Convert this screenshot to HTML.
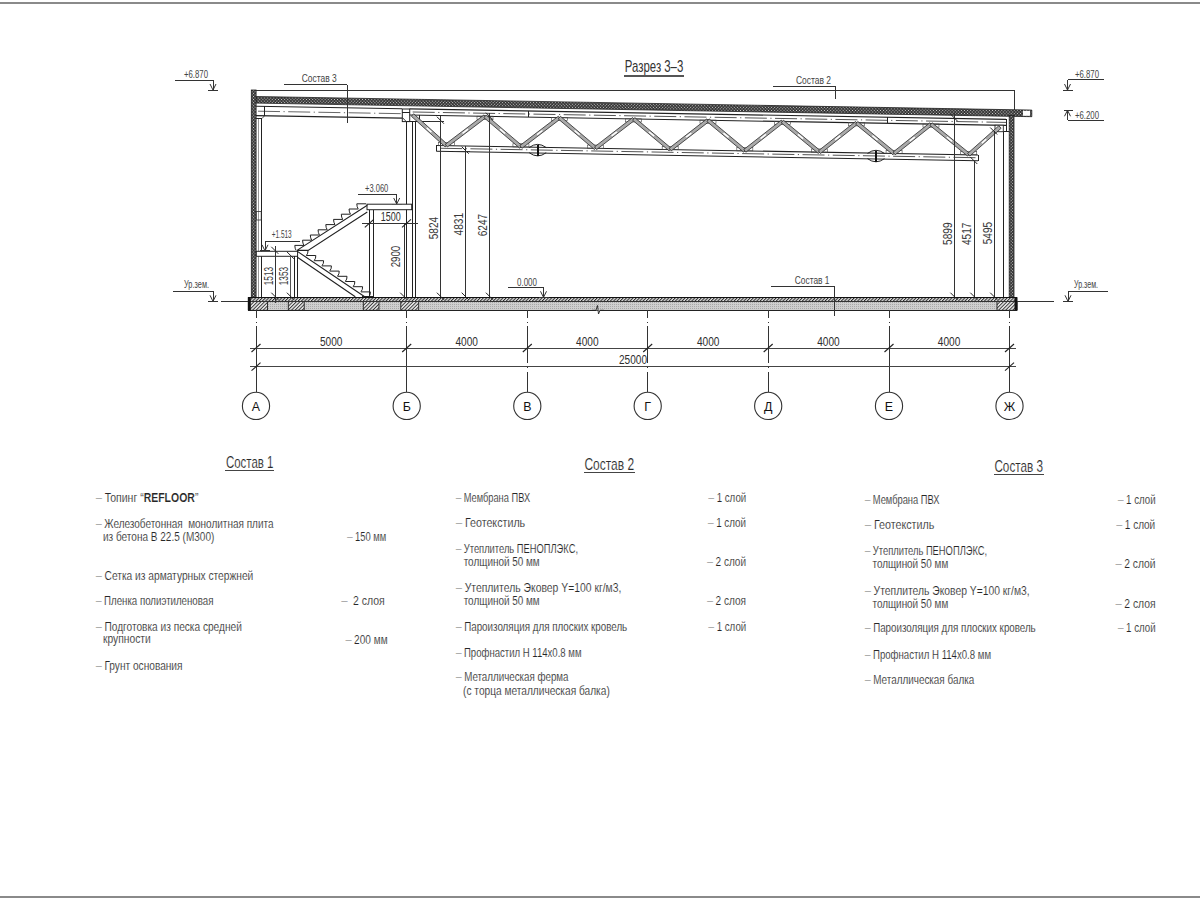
<!DOCTYPE html>
<html><head><meta charset="utf-8"><title>Разрез 3-3</title>
<style>
html,body{margin:0;padding:0;background:#fff;width:1200px;height:900px;overflow:hidden}
svg{display:block;font-family:"Liberation Sans",sans-serif}
text.t{stroke:#fff;stroke-width:0.15px;paint-order:fill stroke}
</style></head><body>
<svg width="1200" height="900" viewBox="0 0 1200 900">
<rect width="1200" height="900" fill="#fff"/>
<defs>
<pattern id="dots" width="2.2" height="2.2" patternUnits="userSpaceOnUse" patternTransform="rotate(45)"><rect width="2.2" height="2.2" fill="#2a2a2a"/><rect x="0.55" y="0.55" width="1.1" height="1.1" fill="#d8d8d8"/></pattern>
<pattern id="hatch" width="2.3" height="2.3" patternUnits="userSpaceOnUse" patternTransform="rotate(-45)"><rect width="2.3" height="2.3" fill="#e0e0e0"/><rect width="2.3" height="1.0" fill="#2a2a2a"/></pattern>
<pattern id="hatch2" width="2.5" height="2.5" patternUnits="userSpaceOnUse" patternTransform="rotate(-45)"><rect width="2.5" height="2.5" fill="#e4e4e4"/><rect width="2.5" height="0.9" fill="#333"/></pattern>
<pattern id="grav" width="2" height="2" patternUnits="userSpaceOnUse"><rect width="2" height="2" fill="#cfcfcf"/><rect width="1" height="1" fill="#a8a8a8"/></pattern>
</defs>
<rect x="0.00" y="2.00" width="1200.00" height="2.00" fill="#8a8a8a" stroke="none" stroke-width="1" />
<rect x="0.00" y="896.00" width="1200.00" height="2.00" fill="#8a8a8a" stroke="none" stroke-width="1" />
<text x="624.80" y="72.40" font-size="16.2" fill="#333" text-anchor="start" font-weight="normal" textLength="58.5" lengthAdjust="spacingAndGlyphs" >Разрез 3–3</text>
<line x1="624.00" y1="75.80" x2="683.50" y2="75.80" stroke="#555" stroke-width="1.5"  shape-rendering="crispEdges"/>
<line x1="251.00" y1="90.00" x2="1014.00" y2="90.00" stroke="#333" stroke-width="1"  shape-rendering="crispEdges"/>
<line x1="1014.00" y1="90.00" x2="1014.00" y2="109.50" stroke="#333" stroke-width="1"  shape-rendering="crispEdges"/>
<path d="M256,96.5 L1031.8,110.08 L1031.8,116.68 L256,103.1 Z" fill="url(#dots)" stroke="#222" stroke-width="0.8" />
<rect x="1023.00" y="110.80" width="7.00" height="5.00" fill="#fff" stroke="none" stroke-width="1" />
<rect x="251.30" y="90.00" width="4.80" height="207.30" fill="url(#dots)" stroke="#222" stroke-width="0.8" />
<rect x="1009.20" y="115.50" width="4.80" height="181.80" fill="url(#dots)" stroke="#222" stroke-width="0.8" />
<line x1="256.00" y1="106.30" x2="402.00" y2="108.78" stroke="#222" stroke-width="1.1" />
<line x1="256.00" y1="115.60" x2="402.00" y2="118.08" stroke="#222" stroke-width="1.1" />
<line x1="258" y1="111.2" x2="402" y2="113.68" stroke="#555" stroke-width="0.9" stroke-dasharray="22,3.5,1.2,3.5"/>
<line x1="264.10" y1="106.30" x2="264.10" y2="115.60" stroke="#222" stroke-width="1"  shape-rendering="crispEdges"/>
<line x1="256.30" y1="118.50" x2="262.00" y2="118.50" stroke="#222" stroke-width="1"  shape-rendering="crispEdges"/>
<line x1="262.00" y1="118.50" x2="264.50" y2="115.80" stroke="#222" stroke-width="0.8" />
<line x1="261.20" y1="118.50" x2="261.20" y2="297.00" stroke="#222" stroke-width="1"  shape-rendering="crispEdges"/>
<line x1="258.90" y1="118.50" x2="258.90" y2="297.00" stroke="#999" stroke-width="1"  shape-rendering="crispEdges"/>
<rect x="256.20" y="211.50" width="5.00" height="8.50" fill="none" stroke="#333" stroke-width="0.8" />
<line x1="406.50" y1="121.60" x2="406.50" y2="297.00" stroke="#222" stroke-width="1"  shape-rendering="crispEdges"/>
<line x1="412.20" y1="121.60" x2="412.20" y2="297.00" stroke="#222" stroke-width="1"  shape-rendering="crispEdges"/>
<line x1="415.60" y1="121.60" x2="415.60" y2="297.00" stroke="#222" stroke-width="1"  shape-rendering="crispEdges"/>
<rect x="402.30" y="108.99" width="7.40" height="12.61" fill="#fff" stroke="#222" stroke-width="1" />
<line x1="402.30" y1="112.60" x2="409.70" y2="112.60" stroke="#222" stroke-width="1"  shape-rendering="crispEdges"/>
<line x1="406.50" y1="121.60" x2="415.60" y2="121.60" stroke="#222" stroke-width="1"  shape-rendering="crispEdges"/>
<line x1="402.40" y1="117.60" x2="406.30" y2="121.60" stroke="#222" stroke-width="0.9" />
<line x1="409.70" y1="108.89" x2="1006.00" y2="119.33" stroke="#222" stroke-width="1.1" />
<line x1="409.70" y1="114.99" x2="1006.00" y2="125.42" stroke="#222" stroke-width="1.1" />
<line x1="412.7" y1="111.99" x2="1006" y2="122.42" stroke="#555" stroke-width="1" stroke-dasharray="22,3.5,1.2,3.5"/>
<line x1="436.20" y1="145.45" x2="978.00" y2="154.94" stroke="#222" stroke-width="1.1" />
<line x1="436.20" y1="151.25" x2="978.00" y2="160.74" stroke="#222" stroke-width="1.1" />
<line x1="436.20" y1="145.45" x2="436.20" y2="151.25" stroke="#222" stroke-width="1"  shape-rendering="crispEdges"/>
<line x1="978.00" y1="154.94" x2="978.00" y2="160.74" stroke="#222" stroke-width="1"  shape-rendering="crispEdges"/>
<line x1="440.2" y1="148.25" x2="978" y2="157.74" stroke="#555" stroke-width="1" stroke-dasharray="22,3.5,1.2,3.5"/>
<line x1="1006.00" y1="119.33" x2="1006.00" y2="131.70" stroke="#222" stroke-width="1"  shape-rendering="crispEdges"/>
<line x1="1003.30" y1="131.70" x2="1009.00" y2="131.70" stroke="#222" stroke-width="1"  shape-rendering="crispEdges"/>
<line x1="1003.30" y1="131.70" x2="1003.30" y2="297.00" stroke="#222" stroke-width="1"  shape-rendering="crispEdges"/>
<line x1="419.30" y1="115.16" x2="419.30" y2="121.40" stroke="#222" stroke-width="1"  shape-rendering="crispEdges"/>
<line x1="409.70" y1="121.40" x2="432.00" y2="121.40" stroke="#222" stroke-width="1"  shape-rendering="crispEdges"/>
<rect x="477.00" y="116.17" width="16.00" height="3.20" fill="none" stroke="#444" stroke-width="0.6" />
<rect x="551.33" y="117.47" width="16.00" height="3.20" fill="none" stroke="#444" stroke-width="0.6" />
<rect x="625.66" y="118.77" width="16.00" height="3.20" fill="none" stroke="#444" stroke-width="0.6" />
<rect x="699.99" y="120.07" width="16.00" height="3.20" fill="none" stroke="#444" stroke-width="0.6" />
<rect x="774.32" y="121.37" width="16.00" height="3.20" fill="none" stroke="#444" stroke-width="0.6" />
<rect x="848.65" y="122.67" width="16.00" height="3.20" fill="none" stroke="#444" stroke-width="0.6" />
<rect x="922.98" y="123.97" width="16.00" height="3.20" fill="none" stroke="#444" stroke-width="0.6" />
<rect x="438.30" y="142.43" width="16.00" height="3.20" fill="none" stroke="#444" stroke-width="0.6" />
<rect x="512.93" y="143.74" width="16.00" height="3.20" fill="none" stroke="#444" stroke-width="0.6" />
<rect x="587.56" y="145.04" width="16.00" height="3.20" fill="none" stroke="#444" stroke-width="0.6" />
<rect x="662.19" y="146.35" width="16.00" height="3.20" fill="none" stroke="#444" stroke-width="0.6" />
<rect x="736.82" y="147.65" width="16.00" height="3.20" fill="none" stroke="#444" stroke-width="0.6" />
<rect x="811.45" y="148.96" width="16.00" height="3.20" fill="none" stroke="#444" stroke-width="0.6" />
<rect x="886.08" y="150.27" width="16.00" height="3.20" fill="none" stroke="#444" stroke-width="0.6" />
<rect x="960.71" y="151.57" width="16.00" height="3.20" fill="none" stroke="#444" stroke-width="0.6" />
<rect x="995.00" y="125.23" width="8.30" height="6.47" fill="#fff" stroke="#222" stroke-width="0.9" />
<path d="M411.36,116.30 L445.16,146.89 L447.44,144.37 L413.64,113.78 Z" fill="#aaaaaa" stroke="#2a2a2a" stroke-width="0.8" />
<path d="M426.18,128.45 L430.91,132.74 L431.94,131.60 L427.21,127.32 Z" fill="#fff" stroke="none" stroke-width="1" />
<path d="M447.33,146.99 L486.03,117.66 L483.97,114.95 L445.27,144.28 Z" fill="#aaaaaa" stroke="#2a2a2a" stroke-width="0.8" />
<path d="M463.02,133.92 L468.43,129.82 L467.51,128.60 L462.09,132.70 Z" fill="#fff" stroke="none" stroke-width="1" />
<path d="M483.90,117.60 L519.83,148.23 L522.03,145.64 L486.10,115.01 Z" fill="#aaaaaa" stroke="#2a2a2a" stroke-width="0.8" />
<path d="M499.59,129.75 L504.62,134.04 L505.62,132.88 L500.59,128.59 Z" fill="#fff" stroke="none" stroke-width="1" />
<path d="M521.96,148.29 L560.36,118.96 L558.30,116.26 L519.90,145.59 Z" fill="#aaaaaa" stroke="#2a2a2a" stroke-width="0.8" />
<path d="M537.52,135.23 L542.90,131.12 L541.97,129.90 L536.59,134.01 Z" fill="#fff" stroke="none" stroke-width="1" />
<path d="M558.23,118.91 L594.46,149.54 L596.66,146.94 L560.43,116.31 Z" fill="#aaaaaa" stroke="#2a2a2a" stroke-width="0.8" />
<path d="M574.05,131.06 L579.12,135.35 L580.11,134.18 L575.04,129.89 Z" fill="#fff" stroke="none" stroke-width="1" />
<path d="M596.60,149.59 L634.70,120.26 L632.62,117.56 L594.52,146.90 Z" fill="#aaaaaa" stroke="#2a2a2a" stroke-width="0.8" />
<path d="M612.03,136.53 L617.36,132.42 L616.43,131.21 L611.10,135.32 Z" fill="#fff" stroke="none" stroke-width="1" />
<path d="M632.57,120.21 L669.10,150.85 L671.28,148.25 L634.75,117.61 Z" fill="#aaaaaa" stroke="#2a2a2a" stroke-width="0.8" />
<path d="M648.51,132.36 L653.63,136.65 L654.61,135.48 L649.49,131.19 Z" fill="#fff" stroke="none" stroke-width="1" />
<path d="M671.23,150.89 L709.03,121.55 L706.95,118.87 L669.15,148.21 Z" fill="#aaaaaa" stroke="#2a2a2a" stroke-width="0.8" />
<path d="M686.54,137.83 L691.83,133.72 L690.89,132.51 L685.60,136.62 Z" fill="#fff" stroke="none" stroke-width="1" />
<path d="M706.90,121.52 L743.73,152.16 L745.91,149.55 L709.08,118.90 Z" fill="#aaaaaa" stroke="#2a2a2a" stroke-width="0.8" />
<path d="M722.97,133.67 L728.13,137.96 L729.10,136.78 L723.95,132.49 Z" fill="#fff" stroke="none" stroke-width="1" />
<path d="M745.87,152.19 L783.37,122.85 L781.27,120.17 L743.77,149.52 Z" fill="#aaaaaa" stroke="#2a2a2a" stroke-width="0.8" />
<path d="M761.04,139.13 L766.29,135.02 L765.35,133.82 L760.10,137.93 Z" fill="#fff" stroke="none" stroke-width="1" />
<path d="M781.24,122.82 L818.37,153.47 L820.53,150.85 L783.40,120.20 Z" fill="#aaaaaa" stroke="#2a2a2a" stroke-width="0.8" />
<path d="M797.43,134.97 L802.63,139.26 L803.60,138.08 L798.40,133.79 Z" fill="#fff" stroke="none" stroke-width="1" />
<path d="M820.50,153.50 L857.70,124.15 L855.60,121.48 L818.40,150.83 Z" fill="#aaaaaa" stroke="#2a2a2a" stroke-width="0.8" />
<path d="M835.55,140.43 L840.76,136.33 L839.81,135.12 L834.60,139.23 Z" fill="#fff" stroke="none" stroke-width="1" />
<path d="M855.57,124.13 L893.00,154.78 L895.16,152.15 L857.73,121.50 Z" fill="#aaaaaa" stroke="#2a2a2a" stroke-width="0.8" />
<path d="M871.89,136.28 L877.13,140.57 L878.10,139.39 L872.86,135.09 Z" fill="#fff" stroke="none" stroke-width="1" />
<path d="M895.14,154.80 L932.04,125.44 L929.92,122.78 L893.02,152.14 Z" fill="#aaaaaa" stroke="#2a2a2a" stroke-width="0.8" />
<path d="M910.05,141.74 L915.22,137.63 L914.27,136.43 L909.10,140.54 Z" fill="#fff" stroke="none" stroke-width="1" />
<path d="M929.91,125.43 L967.64,156.09 L969.78,153.45 L932.05,122.79 Z" fill="#aaaaaa" stroke="#2a2a2a" stroke-width="0.8" />
<path d="M946.34,137.58 L951.63,141.88 L952.59,140.69 L947.31,136.40 Z" fill="#fff" stroke="none" stroke-width="1" />
<path d="M969.84,156.04 L1001.13,128.27 L998.87,125.73 L967.58,153.50 Z" fill="#aaaaaa" stroke="#2a2a2a" stroke-width="0.8" />
<path d="M982.36,143.68 L986.74,139.79 L985.72,138.65 L981.34,142.54 Z" fill="#fff" stroke="none" stroke-width="1" />
<line x1="528.30" y1="110.97" x2="528.30" y2="117.07" stroke="#222" stroke-width="1.5"  shape-rendering="crispEdges"/>
<line x1="887.50" y1="117.25" x2="887.50" y2="123.35" stroke="#222" stroke-width="1.5"  shape-rendering="crispEdges"/>
<path d="M529.20,147.53 Q537.70,141.23 546.20,147.53 M529.20,152.73 Q537.70,159.03 546.20,152.73" fill="none" stroke="#222" stroke-width="1" />
<line x1="537.70" y1="144.63" x2="537.70" y2="155.83" stroke="#111" stroke-width="1.7"  shape-rendering="crispEdges"/>
<path d="M867.50,153.45 Q876.00,147.15 884.50,153.45 M867.50,158.65 Q876.00,164.95 884.50,158.65" fill="none" stroke="#222" stroke-width="1" />
<line x1="876.00" y1="150.55" x2="876.00" y2="161.75" stroke="#111" stroke-width="1.7"  shape-rendering="crispEdges"/>
<rect x="248.30" y="297.20" width="768.70" height="4.30" fill="url(#hatch)" stroke="none" stroke-width="1" />
<rect x="248.30" y="301.50" width="768.70" height="8.80" fill="url(#grav)" stroke="none" stroke-width="1" />
<rect x="249.00" y="301.50" width="18.50" height="8.80" fill="url(#hatch2)" stroke="#222" stroke-width="0.9" />
<rect x="288.30" y="301.50" width="15.90" height="8.80" fill="url(#hatch2)" stroke="#222" stroke-width="0.9" />
<rect x="363.30" y="301.50" width="15.70" height="8.80" fill="url(#hatch2)" stroke="#222" stroke-width="0.9" />
<rect x="400.80" y="301.50" width="17.90" height="8.80" fill="url(#hatch2)" stroke="#222" stroke-width="0.9" />
<rect x="997.00" y="301.50" width="20.00" height="8.80" fill="url(#hatch2)" stroke="#222" stroke-width="0.9" />
<line x1="248.30" y1="297.20" x2="1017.00" y2="297.20" stroke="#111" stroke-width="1.3"  shape-rendering="crispEdges"/>
<line x1="248.30" y1="301.50" x2="1017.00" y2="301.50" stroke="#333" stroke-width="1"  shape-rendering="crispEdges"/>
<line x1="248.30" y1="310.30" x2="1017.00" y2="310.30" stroke="#222" stroke-width="1"  shape-rendering="crispEdges"/>
<rect x="247.80" y="297.20" width="3.00" height="13.10" fill="#111" stroke="none" stroke-width="1" />
<rect x="1014.50" y="297.20" width="3.00" height="13.10" fill="#111" stroke="none" stroke-width="1" />
<path d="M592,310.3 L596,310.3 L597.5,305.5 L598.5,314 L600,310.3 L604,310.3" fill="#fff" stroke="#222" stroke-width="0.9" />
<line x1="221.30" y1="301.30" x2="248.00" y2="301.30" stroke="#333" stroke-width="1"  shape-rendering="crispEdges"/>
<line x1="1017.00" y1="301.30" x2="1054.00" y2="301.30" stroke="#333" stroke-width="1"  shape-rendering="crispEdges"/>
<line x1="174.70" y1="80.00" x2="213.00" y2="80.00" stroke="#333" stroke-width="1"  shape-rendering="crispEdges"/>
<line x1="213.00" y1="80.00" x2="213.00" y2="90.00" stroke="#333" stroke-width="1"  shape-rendering="crispEdges"/>
<path d="M210,84 L213,90 L216,84" fill="none" stroke="#333" stroke-width="1" />
<line x1="208.00" y1="90.00" x2="218.00" y2="90.00" stroke="#333" stroke-width="1"  shape-rendering="crispEdges"/>
<text x="184.00" y="77.50" font-size="10.5" fill="#444" text-anchor="start" font-weight="normal" textLength="24.0" lengthAdjust="spacingAndGlyphs" >+6.870</text>
<line x1="1067.50" y1="79.50" x2="1103.50" y2="79.50" stroke="#333" stroke-width="1"  shape-rendering="crispEdges"/>
<line x1="1067.50" y1="79.50" x2="1067.50" y2="90.00" stroke="#333" stroke-width="1"  shape-rendering="crispEdges"/>
<path d="M1064.5,84 L1067.5,90 L1070.5,84" fill="none" stroke="#333" stroke-width="1" />
<line x1="1062.50" y1="90.00" x2="1072.50" y2="90.00" stroke="#333" stroke-width="1"  shape-rendering="crispEdges"/>
<text x="1075.00" y="78.00" font-size="10.5" fill="#444" text-anchor="start" font-weight="normal" textLength="24.0" lengthAdjust="spacingAndGlyphs" >+6.870</text>
<line x1="173.00" y1="291.30" x2="213.00" y2="291.30" stroke="#333" stroke-width="1"  shape-rendering="crispEdges"/>
<line x1="213.00" y1="291.30" x2="213.00" y2="301.30" stroke="#333" stroke-width="1"  shape-rendering="crispEdges"/>
<path d="M210,295.3 L213,301.3 L216,295.3" fill="none" stroke="#333" stroke-width="1" />
<line x1="208.00" y1="301.30" x2="218.00" y2="301.30" stroke="#333" stroke-width="1"  shape-rendering="crispEdges"/>
<text x="184.00" y="288.00" font-size="10.5" fill="#444" text-anchor="start" font-weight="normal" textLength="25.0" lengthAdjust="spacingAndGlyphs" >Ур.зем.</text>
<line x1="1068.00" y1="291.40" x2="1108.00" y2="291.40" stroke="#333" stroke-width="1"  shape-rendering="crispEdges"/>
<line x1="1068.00" y1="291.40" x2="1068.00" y2="301.30" stroke="#333" stroke-width="1"  shape-rendering="crispEdges"/>
<path d="M1065,295.3 L1068,301.3 L1071,295.3" fill="none" stroke="#333" stroke-width="1" />
<line x1="1063.00" y1="301.30" x2="1073.00" y2="301.30" stroke="#333" stroke-width="1"  shape-rendering="crispEdges"/>
<text x="1074.00" y="288.00" font-size="10.5" fill="#444" text-anchor="start" font-weight="normal" textLength="24.0" lengthAdjust="spacingAndGlyphs" >Ур.зем.</text>
<line x1="357.50" y1="194.70" x2="396.70" y2="194.70" stroke="#333" stroke-width="1"  shape-rendering="crispEdges"/>
<line x1="396.70" y1="194.70" x2="396.70" y2="204.00" stroke="#333" stroke-width="1"  shape-rendering="crispEdges"/>
<path d="M393.7,198 L396.7,204 L399.7,198" fill="none" stroke="#333" stroke-width="1" />
<line x1="391.70" y1="204.00" x2="401.70" y2="204.00" stroke="#333" stroke-width="1"  shape-rendering="crispEdges"/>
<text x="365.00" y="191.70" font-size="10.5" fill="#444" text-anchor="start" font-weight="normal" textLength="23.3" lengthAdjust="spacingAndGlyphs" >+3.060</text>
<line x1="265.00" y1="241.30" x2="300.00" y2="241.30" stroke="#333" stroke-width="1"  shape-rendering="crispEdges"/>
<line x1="265.00" y1="241.30" x2="265.00" y2="250.80" stroke="#333" stroke-width="1"  shape-rendering="crispEdges"/>
<path d="M262,244.8 L265,250.8 L268,244.8" fill="none" stroke="#333" stroke-width="1" />
<line x1="260.00" y1="250.80" x2="270.00" y2="250.80" stroke="#333" stroke-width="1"  shape-rendering="crispEdges"/>
<text x="271.70" y="238.30" font-size="10.5" fill="#444" text-anchor="start" font-weight="normal" textLength="20.0" lengthAdjust="spacingAndGlyphs" >+1.513</text>
<line x1="507.80" y1="287.70" x2="543.50" y2="287.70" stroke="#333" stroke-width="1"  shape-rendering="crispEdges"/>
<line x1="543.50" y1="287.70" x2="543.50" y2="297.30" stroke="#333" stroke-width="1"  shape-rendering="crispEdges"/>
<path d="M540.5,291.3 L543.5,297.3 L546.5,291.3" fill="none" stroke="#333" stroke-width="1" />
<line x1="538.50" y1="297.30" x2="548.50" y2="297.30" stroke="#333" stroke-width="1"  shape-rendering="crispEdges"/>
<text x="517.00" y="285.60" font-size="10.5" fill="#444" text-anchor="start" font-weight="normal" textLength="20.0" lengthAdjust="spacingAndGlyphs" >0.000</text>
<line x1="1064.00" y1="110.25" x2="1073.00" y2="110.25" stroke="#333" stroke-width="1"  shape-rendering="crispEdges"/>
<line x1="1067.50" y1="110.25" x2="1067.50" y2="120.30" stroke="#333" stroke-width="1"  shape-rendering="crispEdges"/>
<path d="M1064.5,116.25 L1067.5,110.25 L1070.5,116.25" fill="none" stroke="#333" stroke-width="1" />
<line x1="1067.50" y1="120.30" x2="1103.50" y2="120.30" stroke="#333" stroke-width="1"  shape-rendering="crispEdges"/>
<text x="1075.00" y="119.00" font-size="10.5" fill="#444" text-anchor="start" font-weight="normal" textLength="24.0" lengthAdjust="spacingAndGlyphs" >+6.200</text>
<text x="301.70" y="81.70" font-size="10.5" fill="#444" text-anchor="start" font-weight="normal" textLength="35.0" lengthAdjust="spacingAndGlyphs" >Состав 3</text>
<line x1="284.00" y1="84.50" x2="347.00" y2="84.50" stroke="#333" stroke-width="1"  shape-rendering="crispEdges"/>
<line x1="347.00" y1="84.50" x2="347.00" y2="123.00" stroke="#333" stroke-width="1"  shape-rendering="crispEdges"/>
<text x="796.00" y="84.00" font-size="10.5" fill="#444" text-anchor="start" font-weight="normal" textLength="35.0" lengthAdjust="spacingAndGlyphs" >Состав 2</text>
<line x1="772.50" y1="86.00" x2="835.00" y2="86.00" stroke="#333" stroke-width="1"  shape-rendering="crispEdges"/>
<line x1="835.00" y1="86.00" x2="835.00" y2="99.00" stroke="#333" stroke-width="1"  shape-rendering="crispEdges"/>
<text x="794.80" y="283.80" font-size="10.5" fill="#444" text-anchor="start" font-weight="normal" textLength="34.7" lengthAdjust="spacingAndGlyphs" >Состав 1</text>
<line x1="771.00" y1="286.00" x2="834.30" y2="286.00" stroke="#333" stroke-width="1"  shape-rendering="crispEdges"/>
<line x1="834.30" y1="286.00" x2="834.30" y2="316.30" stroke="#333" stroke-width="1"  shape-rendering="crispEdges"/>
<line x1="440.90" y1="116.00" x2="440.90" y2="297.20" stroke="#333" stroke-width="1"  shape-rendering="crispEdges"/>
<line x1="436.90" y1="292.70" x2="443.90" y2="299.70" stroke="#222" stroke-width="1" />
<line x1="465.70" y1="146.00" x2="465.70" y2="297.20" stroke="#333" stroke-width="1"  shape-rendering="crispEdges"/>
<line x1="461.70" y1="292.70" x2="468.70" y2="299.70" stroke="#222" stroke-width="1" />
<line x1="489.90" y1="113.30" x2="489.90" y2="297.20" stroke="#333" stroke-width="1"  shape-rendering="crispEdges"/>
<line x1="485.90" y1="292.70" x2="492.90" y2="299.70" stroke="#222" stroke-width="1" />
<line x1="436.90" y1="116.70" x2="443.90" y2="123.70" stroke="#222" stroke-width="1" />
<line x1="430.00" y1="121.40" x2="443.60" y2="121.40" stroke="#333" stroke-width="1"  shape-rendering="crispEdges"/>
<line x1="461.70" y1="146.70" x2="468.70" y2="153.70" stroke="#222" stroke-width="1" />
<line x1="455.00" y1="151.30" x2="470.00" y2="151.30" stroke="#333" stroke-width="1"  shape-rendering="crispEdges"/>
<line x1="485.90" y1="112.70" x2="492.90" y2="119.70" stroke="#222" stroke-width="1" />
<text x="438.00" y="228.00" font-size="12.3" fill="#3a3a3a" text-anchor="middle" textLength="22.5" lengthAdjust="spacingAndGlyphs" transform="rotate(-90 438.00 228.00)" dy="0">5824</text>
<text x="463.00" y="224.20" font-size="12.3" fill="#3a3a3a" text-anchor="middle" textLength="22.5" lengthAdjust="spacingAndGlyphs" transform="rotate(-90 463.00 224.20)" dy="0">4831</text>
<text x="487.30" y="225.00" font-size="12.3" fill="#3a3a3a" text-anchor="middle" textLength="22.5" lengthAdjust="spacingAndGlyphs" transform="rotate(-90 487.30 225.00)" dy="0">6247</text>
<line x1="954.40" y1="113.30" x2="954.40" y2="297.20" stroke="#333" stroke-width="1"  shape-rendering="crispEdges"/>
<line x1="950.40" y1="292.70" x2="957.40" y2="299.70" stroke="#222" stroke-width="1" />
<line x1="974.30" y1="161.00" x2="974.30" y2="297.20" stroke="#333" stroke-width="1"  shape-rendering="crispEdges"/>
<line x1="970.30" y1="292.70" x2="977.30" y2="299.70" stroke="#222" stroke-width="1" />
<line x1="994.20" y1="131.00" x2="994.20" y2="297.20" stroke="#333" stroke-width="1"  shape-rendering="crispEdges"/>
<line x1="990.20" y1="292.70" x2="997.20" y2="299.70" stroke="#222" stroke-width="1" />
<line x1="950.40" y1="114.00" x2="957.40" y2="121.00" stroke="#222" stroke-width="1" />
<line x1="970.30" y1="157.00" x2="977.30" y2="164.00" stroke="#222" stroke-width="1" />
<line x1="990.20" y1="127.50" x2="997.20" y2="134.50" stroke="#222" stroke-width="1" />
<text x="952.00" y="233.70" font-size="12.3" fill="#3a3a3a" text-anchor="middle" textLength="22.5" lengthAdjust="spacingAndGlyphs" transform="rotate(-90 952.00 233.70)" dy="0">5899</text>
<text x="971.30" y="233.80" font-size="12.3" fill="#3a3a3a" text-anchor="middle" textLength="22.5" lengthAdjust="spacingAndGlyphs" transform="rotate(-90 971.30 233.80)" dy="0">4517</text>
<text x="991.70" y="233.00" font-size="12.3" fill="#3a3a3a" text-anchor="middle" textLength="22.5" lengthAdjust="spacingAndGlyphs" transform="rotate(-90 991.70 233.00)" dy="0">5495</text>
<rect x="256.30" y="251.30" width="41.30" height="5.00" fill="#fff" stroke="#222" stroke-width="1" />
<rect x="367.00" y="204.20" width="44.70" height="5.50" fill="#fff" stroke="#222" stroke-width="1" />
<line x1="294.40" y1="256.30" x2="294.40" y2="297.20" stroke="#222" stroke-width="1"  shape-rendering="crispEdges"/>
<line x1="297.60" y1="256.30" x2="297.60" y2="297.20" stroke="#222" stroke-width="1"  shape-rendering="crispEdges"/>
<line x1="369.30" y1="209.70" x2="369.30" y2="297.20" stroke="#222" stroke-width="1"  shape-rendering="crispEdges"/>
<line x1="373.40" y1="209.70" x2="373.40" y2="297.20" stroke="#222" stroke-width="1"  shape-rendering="crispEdges"/>
<path d="M297,250.4 L367.3,205.2 M297,250.4 L308.1,250.4 L367.3,212.0" fill="none" stroke="#222" stroke-width="1.1" />
<path d="M304.10,245.40 L294.80,245.40 Q294.90,248.60 296.10,250.40" fill="none" stroke="#222" stroke-width="1" />
<path d="M311.85,240.20 L302.55,240.20 Q302.65,243.40 303.85,245.20" fill="none" stroke="#222" stroke-width="1" />
<path d="M319.60,235.00 L310.30,235.00 Q310.40,238.20 311.60,240.00" fill="none" stroke="#222" stroke-width="1" />
<path d="M327.35,229.80 L318.05,229.80 Q318.15,233.00 319.35,234.80" fill="none" stroke="#222" stroke-width="1" />
<path d="M335.10,224.60 L325.80,224.60 Q325.90,227.80 327.10,229.60" fill="none" stroke="#222" stroke-width="1" />
<path d="M342.85,219.40 L333.55,219.40 Q333.65,222.60 334.85,224.40" fill="none" stroke="#222" stroke-width="1" />
<path d="M350.60,214.20 L341.30,214.20 Q341.40,217.40 342.60,219.20" fill="none" stroke="#222" stroke-width="1" />
<path d="M358.35,209.00 L349.05,209.00 Q349.15,212.20 350.35,214.00" fill="none" stroke="#222" stroke-width="1" />
<path d="M366.10,203.80 L356.80,203.80 Q356.90,207.00 358.10,208.80" fill="none" stroke="#222" stroke-width="1" />
<path d="M297.4,251.4 L364.7,296.8 M297.4,257.2 L355.3,296.8" fill="none" stroke="#222" stroke-width="1.1" />
<path d="M306.30,255.50 L315.80,255.50 Q316.00,258.50 314.20,260.50" fill="none" stroke="#222" stroke-width="1" />
<path d="M314.10,260.70 L323.60,260.70 Q323.80,263.70 322.00,265.70" fill="none" stroke="#222" stroke-width="1" />
<path d="M321.90,265.90 L331.40,265.90 Q331.60,268.90 329.80,270.90" fill="none" stroke="#222" stroke-width="1" />
<path d="M329.70,271.10 L339.20,271.10 Q339.40,274.10 337.60,276.10" fill="none" stroke="#222" stroke-width="1" />
<path d="M337.50,276.30 L347.00,276.30 Q347.20,279.30 345.40,281.30" fill="none" stroke="#222" stroke-width="1" />
<path d="M345.30,281.50 L354.80,281.50 Q355.00,284.50 353.20,286.50" fill="none" stroke="#222" stroke-width="1" />
<path d="M353.10,286.70 L362.60,286.70 Q362.80,289.70 361.00,291.70" fill="none" stroke="#222" stroke-width="1" />
<path d="M360.90,291.90 L370.40,291.90 Q370.60,294.90 368.80,296.90" fill="none" stroke="#222" stroke-width="1" />
<path d="M308,250.4 Q308.2,253.4 306.4,255.5" fill="none" stroke="#222" stroke-width="1" />
<line x1="361.50" y1="296.00" x2="373.00" y2="296.00" stroke="#222" stroke-width="1"  shape-rendering="crispEdges"/>
<line x1="275.30" y1="245.80" x2="275.30" y2="303.00" stroke="#333" stroke-width="1"  shape-rendering="crispEdges"/>
<line x1="271.30" y1="246.80" x2="278.30" y2="253.80" stroke="#222" stroke-width="1" />
<line x1="271.30" y1="292.70" x2="278.30" y2="299.70" stroke="#222" stroke-width="1" />
<line x1="290.90" y1="256.30" x2="290.90" y2="297.20" stroke="#555" stroke-width="1"  shape-rendering="crispEdges"/>
<line x1="286.90" y1="251.80" x2="293.90" y2="258.80" stroke="#222" stroke-width="1" />
<line x1="286.90" y1="292.70" x2="293.90" y2="299.70" stroke="#222" stroke-width="1" />
<text x="272.50" y="276.00" font-size="12.3" fill="#3a3a3a" text-anchor="middle" textLength="18.5" lengthAdjust="spacingAndGlyphs" transform="rotate(-90 272.50 276.00)" dy="0">1513</text>
<text x="287.50" y="276.00" font-size="12.3" fill="#3a3a3a" text-anchor="middle" textLength="18.5" lengthAdjust="spacingAndGlyphs" transform="rotate(-90 287.50 276.00)" dy="0">1353</text>
<line x1="404.20" y1="223.00" x2="404.20" y2="297.20" stroke="#333" stroke-width="1"  shape-rendering="crispEdges"/>
<line x1="400.20" y1="292.70" x2="407.20" y2="299.70" stroke="#222" stroke-width="1" />
<text x="400.50" y="256.60" font-size="12.3" fill="#3a3a3a" text-anchor="middle" textLength="21.5" lengthAdjust="spacingAndGlyphs" transform="rotate(-90 400.50 256.60)" dy="0">2900</text>
<line x1="361.70" y1="223.30" x2="418.30" y2="223.30" stroke="#333" stroke-width="1"  shape-rendering="crispEdges"/>
<line x1="364.80" y1="227.30" x2="373.80" y2="219.30" stroke="#222" stroke-width="1.1" />
<line x1="402.00" y1="227.30" x2="411.00" y2="219.30" stroke="#222" stroke-width="1.1" />
<text x="380.80" y="220.80" font-size="12.3" fill="#2e2e2e" text-anchor="start" font-weight="normal" textLength="20.0" lengthAdjust="spacingAndGlyphs" >1500</text>
<line x1="256.00" y1="310.30" x2="256.00" y2="318.30" stroke="#333" stroke-width="1"  shape-rendering="crispEdges"/>
<line x1="256.00" y1="321.60" x2="256.00" y2="322.60" stroke="#333" stroke-width="1"  shape-rendering="crispEdges"/>
<line x1="256.00" y1="326.00" x2="256.00" y2="392.30" stroke="#333" stroke-width="1"  shape-rendering="crispEdges"/>
<circle cx="256" cy="405.9" r="13.6" fill="none" stroke="#333" stroke-width="1.1"/>
<text x="256.00" y="410.90" font-size="12.4" fill="#111" text-anchor="middle" font-weight="normal" >А</text>
<line x1="406.70" y1="310.30" x2="406.70" y2="318.30" stroke="#333" stroke-width="1"  shape-rendering="crispEdges"/>
<line x1="406.70" y1="321.60" x2="406.70" y2="322.60" stroke="#333" stroke-width="1"  shape-rendering="crispEdges"/>
<line x1="406.70" y1="326.00" x2="406.70" y2="392.30" stroke="#333" stroke-width="1"  shape-rendering="crispEdges"/>
<circle cx="406.7" cy="405.9" r="13.6" fill="none" stroke="#333" stroke-width="1.1"/>
<text x="406.70" y="410.90" font-size="12.4" fill="#111" text-anchor="middle" font-weight="normal" >Б</text>
<line x1="527.30" y1="310.30" x2="527.30" y2="318.30" stroke="#333" stroke-width="1"  shape-rendering="crispEdges"/>
<line x1="527.30" y1="321.60" x2="527.30" y2="322.60" stroke="#333" stroke-width="1"  shape-rendering="crispEdges"/>
<line x1="527.30" y1="326.00" x2="527.30" y2="363.30" stroke="#333" stroke-width="1"  shape-rendering="crispEdges"/>
<line x1="527.30" y1="367.00" x2="527.30" y2="368.00" stroke="#333" stroke-width="1"  shape-rendering="crispEdges"/>
<line x1="527.30" y1="371.70" x2="527.30" y2="392.30" stroke="#333" stroke-width="1"  shape-rendering="crispEdges"/>
<circle cx="527.3" cy="405.9" r="13.6" fill="none" stroke="#333" stroke-width="1.1"/>
<text x="527.30" y="410.90" font-size="12.4" fill="#111" text-anchor="middle" font-weight="normal" >В</text>
<line x1="647.70" y1="310.30" x2="647.70" y2="318.30" stroke="#333" stroke-width="1"  shape-rendering="crispEdges"/>
<line x1="647.70" y1="321.60" x2="647.70" y2="322.60" stroke="#333" stroke-width="1"  shape-rendering="crispEdges"/>
<line x1="647.70" y1="326.00" x2="647.70" y2="363.30" stroke="#333" stroke-width="1"  shape-rendering="crispEdges"/>
<line x1="647.70" y1="367.00" x2="647.70" y2="368.00" stroke="#333" stroke-width="1"  shape-rendering="crispEdges"/>
<line x1="647.70" y1="371.70" x2="647.70" y2="392.30" stroke="#333" stroke-width="1"  shape-rendering="crispEdges"/>
<circle cx="647.7" cy="405.9" r="13.6" fill="none" stroke="#333" stroke-width="1.1"/>
<text x="647.70" y="410.90" font-size="12.4" fill="#111" text-anchor="middle" font-weight="normal" >Г</text>
<line x1="768.20" y1="310.30" x2="768.20" y2="318.30" stroke="#333" stroke-width="1"  shape-rendering="crispEdges"/>
<line x1="768.20" y1="321.60" x2="768.20" y2="322.60" stroke="#333" stroke-width="1"  shape-rendering="crispEdges"/>
<line x1="768.20" y1="326.00" x2="768.20" y2="363.30" stroke="#333" stroke-width="1"  shape-rendering="crispEdges"/>
<line x1="768.20" y1="367.00" x2="768.20" y2="368.00" stroke="#333" stroke-width="1"  shape-rendering="crispEdges"/>
<line x1="768.20" y1="371.70" x2="768.20" y2="392.30" stroke="#333" stroke-width="1"  shape-rendering="crispEdges"/>
<circle cx="768.2" cy="405.9" r="13.6" fill="none" stroke="#333" stroke-width="1.1"/>
<text x="768.20" y="410.90" font-size="12.4" fill="#111" text-anchor="middle" font-weight="normal" >Д</text>
<line x1="889.00" y1="310.30" x2="889.00" y2="318.30" stroke="#333" stroke-width="1"  shape-rendering="crispEdges"/>
<line x1="889.00" y1="321.60" x2="889.00" y2="322.60" stroke="#333" stroke-width="1"  shape-rendering="crispEdges"/>
<line x1="889.00" y1="326.00" x2="889.00" y2="392.30" stroke="#333" stroke-width="1"  shape-rendering="crispEdges"/>
<circle cx="889" cy="405.9" r="13.6" fill="none" stroke="#333" stroke-width="1.1"/>
<text x="889.00" y="410.90" font-size="12.4" fill="#111" text-anchor="middle" font-weight="normal" >Е</text>
<line x1="1009.50" y1="310.30" x2="1009.50" y2="318.30" stroke="#333" stroke-width="1"  shape-rendering="crispEdges"/>
<line x1="1009.50" y1="321.60" x2="1009.50" y2="322.60" stroke="#333" stroke-width="1"  shape-rendering="crispEdges"/>
<line x1="1009.50" y1="326.00" x2="1009.50" y2="392.30" stroke="#333" stroke-width="1"  shape-rendering="crispEdges"/>
<circle cx="1009.5" cy="405.9" r="13.6" fill="none" stroke="#333" stroke-width="1.1"/>
<text x="1009.50" y="410.90" font-size="12.4" fill="#111" text-anchor="middle" font-weight="normal" >Ж</text>
<line x1="250.00" y1="348.00" x2="1016.00" y2="348.00" stroke="#444" stroke-width="1"  shape-rendering="crispEdges"/>
<line x1="250.00" y1="366.70" x2="1016.00" y2="366.70" stroke="#444" stroke-width="1"  shape-rendering="crispEdges"/>
<line x1="251.50" y1="352.00" x2="260.50" y2="344.00" stroke="#222" stroke-width="1.1" />
<line x1="402.20" y1="352.00" x2="411.20" y2="344.00" stroke="#222" stroke-width="1.1" />
<line x1="522.80" y1="352.00" x2="531.80" y2="344.00" stroke="#222" stroke-width="1.1" />
<line x1="643.20" y1="352.00" x2="652.20" y2="344.00" stroke="#222" stroke-width="1.1" />
<line x1="763.70" y1="352.00" x2="772.70" y2="344.00" stroke="#222" stroke-width="1.1" />
<line x1="884.50" y1="352.00" x2="893.50" y2="344.00" stroke="#222" stroke-width="1.1" />
<line x1="1005.00" y1="352.00" x2="1014.00" y2="344.00" stroke="#222" stroke-width="1.1" />
<line x1="251.50" y1="370.70" x2="260.50" y2="362.70" stroke="#222" stroke-width="1.1" />
<line x1="1005.00" y1="370.70" x2="1014.00" y2="362.70" stroke="#222" stroke-width="1.1" />
<text x="331.20" y="345.90" font-size="12.3" fill="#2e2e2e" text-anchor="middle" font-weight="normal" textLength="22.5" lengthAdjust="spacingAndGlyphs" >5000</text>
<text x="466.70" y="345.70" font-size="12.3" fill="#2e2e2e" text-anchor="middle" font-weight="normal" textLength="22.5" lengthAdjust="spacingAndGlyphs" >4000</text>
<text x="587.30" y="345.70" font-size="12.3" fill="#2e2e2e" text-anchor="middle" font-weight="normal" textLength="22.5" lengthAdjust="spacingAndGlyphs" >4000</text>
<text x="708.20" y="345.70" font-size="12.3" fill="#2e2e2e" text-anchor="middle" font-weight="normal" textLength="22.5" lengthAdjust="spacingAndGlyphs" >4000</text>
<text x="828.50" y="345.70" font-size="12.3" fill="#2e2e2e" text-anchor="middle" font-weight="normal" textLength="22.5" lengthAdjust="spacingAndGlyphs" >4000</text>
<text x="949.10" y="345.70" font-size="12.3" fill="#2e2e2e" text-anchor="middle" font-weight="normal" textLength="22.5" lengthAdjust="spacingAndGlyphs" >4000</text>
<text x="619.00" y="364.00" font-size="12.3" fill="#2e2e2e" text-anchor="start" font-weight="normal" textLength="28.0" lengthAdjust="spacingAndGlyphs" >25000</text>
<text x="225.90" y="468.10" font-size="16.2" fill="#2a2a2a" text-anchor="start" font-weight="normal" textLength="47.6" lengthAdjust="spacingAndGlyphs" class="t" xml:space="preserve">Состав 1</text>
<line x1="225.40" y1="470.60" x2="274.00" y2="470.60" stroke="#444" stroke-width="1"  shape-rendering="crispEdges"/>
<text x="95.90" y="502.40" font-size="12" fill="#262626" text-anchor="start" font-weight="normal" textLength="102.5" lengthAdjust="spacingAndGlyphs" class="t" xml:space="preserve">– Топинг “<tspan font-weight="bold">REFLOOR</tspan>”</text>
<text x="96.00" y="528.00" font-size="12" fill="#262626" text-anchor="start" font-weight="normal" textLength="177.5" lengthAdjust="spacingAndGlyphs" class="t" xml:space="preserve">– Железобетонная  монолитная плита</text>
<text x="103.00" y="541.40" font-size="12" fill="#262626" text-anchor="start" font-weight="normal" textLength="111.3" lengthAdjust="spacingAndGlyphs" class="t" xml:space="preserve">из бетона В 22.5 (М300)</text>
<text x="347.20" y="541.40" font-size="12" fill="#262626" text-anchor="start" font-weight="normal" textLength="39.0" lengthAdjust="spacingAndGlyphs" class="t" xml:space="preserve">– 150 мм</text>
<text x="96.00" y="579.80" font-size="12" fill="#262626" text-anchor="start" font-weight="normal" textLength="157.3" lengthAdjust="spacingAndGlyphs" class="t" xml:space="preserve">– Сетка из арматурных стержней</text>
<text x="96.00" y="605.20" font-size="12" fill="#262626" text-anchor="start" font-weight="normal" textLength="117.4" lengthAdjust="spacingAndGlyphs" class="t" xml:space="preserve">– Пленка полиэтиленовая</text>
<text x="341.40" y="605.20" font-size="12" fill="#262626" text-anchor="start" font-weight="normal" textLength="43.3" lengthAdjust="spacingAndGlyphs" class="t" xml:space="preserve">–  2 слоя</text>
<text x="96.00" y="630.90" font-size="12" fill="#262626" text-anchor="start" font-weight="normal" textLength="145.8" lengthAdjust="spacingAndGlyphs" class="t" xml:space="preserve">– Подготовка из песка средней</text>
<text x="103.00" y="643.40" font-size="12" fill="#262626" text-anchor="start" font-weight="normal" textLength="47.8" lengthAdjust="spacingAndGlyphs" class="t" xml:space="preserve">крупности</text>
<text x="345.70" y="643.80" font-size="12" fill="#262626" text-anchor="start" font-weight="normal" textLength="41.9" lengthAdjust="spacingAndGlyphs" class="t" xml:space="preserve">– 200 мм</text>
<text x="96.00" y="670.00" font-size="12" fill="#262626" text-anchor="start" font-weight="normal" textLength="86.5" lengthAdjust="spacingAndGlyphs" class="t" xml:space="preserve">– Грунт основания</text>
<text x="584.40" y="470.20" font-size="16.2" fill="#2a2a2a" text-anchor="start" font-weight="normal" textLength="49.7" lengthAdjust="spacingAndGlyphs" class="t" xml:space="preserve">Состав 2</text>
<line x1="583.90" y1="472.30" x2="634.60" y2="472.30" stroke="#444" stroke-width="1"  shape-rendering="crispEdges"/>
<text x="456.00" y="502.00" font-size="12" fill="#262626" text-anchor="start" font-weight="normal" textLength="74.1" lengthAdjust="spacingAndGlyphs" class="t" xml:space="preserve">– Мембрана ПВХ</text>
<text x="708.60" y="502.00" font-size="12" fill="#262626" text-anchor="start" font-weight="normal" textLength="37.6" lengthAdjust="spacingAndGlyphs" class="t" xml:space="preserve">– 1 слой</text>
<text x="456.00" y="527.40" font-size="12" fill="#262626" text-anchor="start" font-weight="normal" textLength="69.2" lengthAdjust="spacingAndGlyphs" class="t" xml:space="preserve">– Геотекстиль</text>
<text x="708.00" y="527.40" font-size="12" fill="#262626" text-anchor="start" font-weight="normal" textLength="38.0" lengthAdjust="spacingAndGlyphs" class="t" xml:space="preserve">– 1 слой</text>
<text x="456.00" y="552.70" font-size="12" fill="#262626" text-anchor="start" font-weight="normal" textLength="122.0" lengthAdjust="spacingAndGlyphs" class="t" xml:space="preserve">– Утеплитель ПЕНОПЛЭКС,</text>
<text x="463.70" y="565.50" font-size="12" fill="#262626" text-anchor="start" font-weight="normal" textLength="76.0" lengthAdjust="spacingAndGlyphs" class="t" xml:space="preserve">толщиной 50 мм</text>
<text x="707.20" y="565.50" font-size="12" fill="#262626" text-anchor="start" font-weight="normal" textLength="38.8" lengthAdjust="spacingAndGlyphs" class="t" xml:space="preserve">– 2 слой</text>
<text x="456.00" y="592.20" font-size="12" fill="#262626" text-anchor="start" font-weight="normal" textLength="165.4" lengthAdjust="spacingAndGlyphs" class="t" xml:space="preserve">– Утеплитель Эковер Y=100 кг/м3,</text>
<text x="463.70" y="605.40" font-size="12" fill="#262626" text-anchor="start" font-weight="normal" textLength="76.0" lengthAdjust="spacingAndGlyphs" class="t" xml:space="preserve">толщиной 50 мм</text>
<text x="707.20" y="605.40" font-size="12" fill="#262626" text-anchor="start" font-weight="normal" textLength="38.8" lengthAdjust="spacingAndGlyphs" class="t" xml:space="preserve">– 2 слоя</text>
<text x="456.00" y="630.50" font-size="12" fill="#262626" text-anchor="start" font-weight="normal" textLength="171.2" lengthAdjust="spacingAndGlyphs" class="t" xml:space="preserve">– Пароизоляция для плоских кровель</text>
<text x="708.60" y="630.50" font-size="12" fill="#262626" text-anchor="start" font-weight="normal" textLength="37.6" lengthAdjust="spacingAndGlyphs" class="t" xml:space="preserve">– 1 слой</text>
<text x="456.00" y="656.50" font-size="12" fill="#262626" text-anchor="start" font-weight="normal" textLength="125.5" lengthAdjust="spacingAndGlyphs" class="t" xml:space="preserve">– Профнастил Н 114х0.8 мм</text>
<text x="456.00" y="681.10" font-size="12" fill="#262626" text-anchor="start" font-weight="normal" textLength="112.5" lengthAdjust="spacingAndGlyphs" class="t" xml:space="preserve">– Металлическая ферма</text>
<text x="463.10" y="694.70" font-size="12" fill="#262626" text-anchor="start" font-weight="normal" textLength="146.7" lengthAdjust="spacingAndGlyphs" class="t" xml:space="preserve">(с торца металлическая балка)</text>
<text x="994.40" y="471.80" font-size="16.2" fill="#2a2a2a" text-anchor="start" font-weight="normal" textLength="48.6" lengthAdjust="spacingAndGlyphs" class="t" xml:space="preserve">Состав 3</text>
<line x1="993.90" y1="474.30" x2="1043.50" y2="474.30" stroke="#444" stroke-width="1"  shape-rendering="crispEdges"/>
<text x="865.00" y="504.20" font-size="12" fill="#262626" text-anchor="start" font-weight="normal" textLength="74.5" lengthAdjust="spacingAndGlyphs" class="t" xml:space="preserve">– Мембрана ПВХ</text>
<text x="1118.00" y="504.20" font-size="12" fill="#262626" text-anchor="start" font-weight="normal" textLength="37.6" lengthAdjust="spacingAndGlyphs" class="t" xml:space="preserve">– 1 слой</text>
<text x="865.00" y="529.40" font-size="12" fill="#262626" text-anchor="start" font-weight="normal" textLength="69.3" lengthAdjust="spacingAndGlyphs" class="t" xml:space="preserve">– Геотекстиль</text>
<text x="1116.50" y="529.40" font-size="12" fill="#262626" text-anchor="start" font-weight="normal" textLength="38.7" lengthAdjust="spacingAndGlyphs" class="t" xml:space="preserve">– 1 слой</text>
<text x="865.00" y="555.20" font-size="12" fill="#262626" text-anchor="start" font-weight="normal" textLength="122.2" lengthAdjust="spacingAndGlyphs" class="t" xml:space="preserve">– Утеплитель ПЕНОПЛЭКС,</text>
<text x="872.50" y="568.10" font-size="12" fill="#262626" text-anchor="start" font-weight="normal" textLength="75.7" lengthAdjust="spacingAndGlyphs" class="t" xml:space="preserve">толщиной 50 мм</text>
<text x="1115.70" y="568.10" font-size="12" fill="#262626" text-anchor="start" font-weight="normal" textLength="39.9" lengthAdjust="spacingAndGlyphs" class="t" xml:space="preserve">– 2 слой</text>
<text x="865.00" y="594.70" font-size="12" fill="#262626" text-anchor="start" font-weight="normal" textLength="164.7" lengthAdjust="spacingAndGlyphs" class="t" xml:space="preserve">– Утеплитель Эковер Y=100 кг/м3,</text>
<text x="872.50" y="607.60" font-size="12" fill="#262626" text-anchor="start" font-weight="normal" textLength="75.7" lengthAdjust="spacingAndGlyphs" class="t" xml:space="preserve">толщиной 50 мм</text>
<text x="1115.70" y="607.60" font-size="12" fill="#262626" text-anchor="start" font-weight="normal" textLength="39.9" lengthAdjust="spacingAndGlyphs" class="t" xml:space="preserve">– 2 слоя</text>
<text x="865.00" y="632.20" font-size="12" fill="#262626" text-anchor="start" font-weight="normal" textLength="170.7" lengthAdjust="spacingAndGlyphs" class="t" xml:space="preserve">– Пароизоляция для плоских кровель</text>
<text x="1118.00" y="632.20" font-size="12" fill="#262626" text-anchor="start" font-weight="normal" textLength="37.6" lengthAdjust="spacingAndGlyphs" class="t" xml:space="preserve">– 1 слой</text>
<text x="865.00" y="658.50" font-size="12" fill="#262626" text-anchor="start" font-weight="normal" textLength="126.0" lengthAdjust="spacingAndGlyphs" class="t" xml:space="preserve">– Профнастил Н 114х0.8 мм</text>
<text x="865.00" y="683.70" font-size="12" fill="#262626" text-anchor="start" font-weight="normal" textLength="109.2" lengthAdjust="spacingAndGlyphs" class="t" xml:space="preserve">– Металлическая балка</text>
</svg>
</body></html>
